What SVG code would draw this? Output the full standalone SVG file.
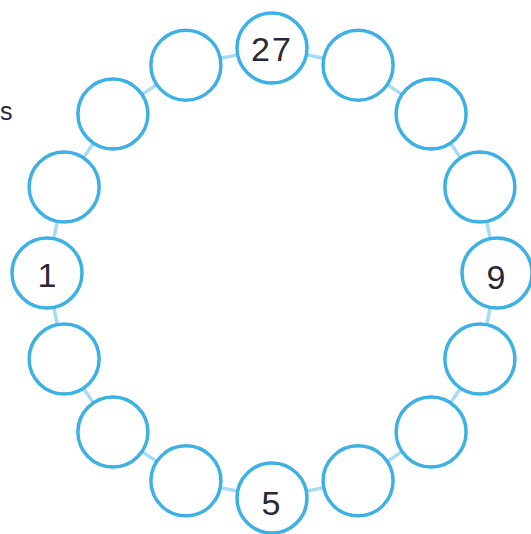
<svg xmlns="http://www.w3.org/2000/svg" width="531" height="534" viewBox="0 0 531 534">
<style>
.n{fill:#ffffff;stroke:#3db0e6;stroke-width:3.5}
.c{stroke:#a6dbf4;stroke-width:3.5;fill:none}
.t{font-family:"Liberation Sans",Arial,sans-serif;font-size:34px;fill:#2b2838;text-anchor:middle}
</style>
<rect width="531" height="534" fill="#ffffff"/>
<text x="0" y="120" class="t" style="text-anchor:start;font-size:25px">s</text>
<g id="connectors">
<polygon class="c" points="272,48 358.1,65.13 431.1,113.9 479.87,186.9 497,273 479.87,359.1 431.1,432.1 358.1,480.87 272,498 185.9,480.87 112.9,432.1 64.13,359.1 47,273 64.13,186.9 112.9,113.9 185.9,65.13"/>
</g>
<g id="n0"><circle class="n" cx="272" cy="48" r="35"/><text class="t" x="272" y="61" letter-spacing="2">27</text></g>
<g id="n1"><circle class="n" cx="358.1" cy="65.13" r="35"/></g>
<g id="n2"><circle class="n" cx="431.1" cy="113.9" r="35"/></g>
<g id="n3"><circle class="n" cx="479.87" cy="186.9" r="35"/></g>
<g id="n4"><circle class="n" cx="497" cy="273" r="35"/><text class="t" x="496" y="289">9</text></g>
<g id="n5"><circle class="n" cx="479.87" cy="359.1" r="35"/></g>
<g id="n6"><circle class="n" cx="431.1" cy="432.1" r="35"/></g>
<g id="n7"><circle class="n" cx="358.1" cy="480.87" r="35"/></g>
<g id="n8"><circle class="n" cx="272" cy="498" r="35"/><text class="t" x="271" y="515">5</text></g>
<g id="n9"><circle class="n" cx="185.9" cy="480.87" r="35"/></g>
<g id="n10"><circle class="n" cx="112.9" cy="432.1" r="35"/></g>
<g id="n11"><circle class="n" cx="64.13" cy="359.1" r="35"/></g>
<g id="n12"><circle class="n" cx="47" cy="273" r="35"/><text class="t" x="47" y="287">1</text></g>
<g id="n13"><circle class="n" cx="64.13" cy="186.9" r="35"/></g>
<g id="n14"><circle class="n" cx="112.9" cy="113.9" r="35"/></g>
<g id="n15"><circle class="n" cx="185.9" cy="65.13" r="35"/></g>
</svg>
